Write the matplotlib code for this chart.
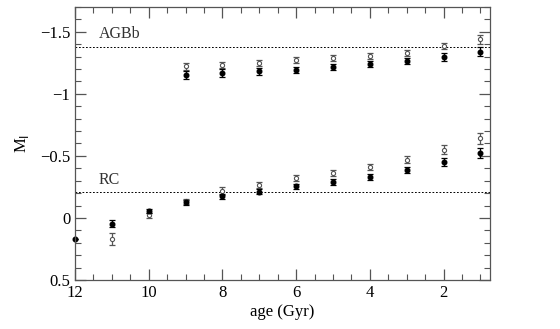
import matplotlib
matplotlib.use("Agg")
import matplotlib.pyplot as plt
from matplotlib.ticker import MultipleLocator

ages = [12, 11, 10, 9, 8, 7, 6, 5, 4, 3, 2, 1]
rc_filled = [0.17, 0.045, -0.054, -0.126, -0.174, -0.21, -0.257, -0.289, -0.332, -0.385, -0.45, -0.522]
rc_filled_err = [0.0, 0.03, 0.015, 0.02, 0.02, 0.02, 0.02, 0.025, 0.025, 0.025, 0.03, 0.04]
ages_open_rc = [11, 10, 9, 8, 7, 6, 5, 4, 3, 2, 1]
rc_open = [0.168, -0.02, -0.136, -0.217, -0.268, -0.32, -0.364, -0.41, -0.47, -0.55, -0.64]
rc_open_err = [0.05, 0.02, 0.02, 0.03, 0.025, 0.025, 0.025, 0.025, 0.03, 0.035, 0.045]

ages_agb = [9, 8, 7, 6, 5, 4, 3, 2, 1]
agb_filled = [-1.15, -1.166, -1.18, -1.19, -1.217, -1.238, -1.267, -1.297, -1.34]
agb_filled_err = [0.03, 0.03, 0.03, 0.025, 0.025, 0.025, 0.025, 0.03, 0.035]
agb_open = [-1.22, -1.235, -1.25, -1.27, -1.29, -1.305, -1.33, -1.385, -1.44]
agb_open_err = [0.025, 0.025, 0.025, 0.025, 0.025, 0.025, 0.025, 0.025, 0.035]

agbb_level = -1.375
rc_level = -0.205

plt.rcParams['font.family'] = ['Liberation Serif', 'DejaVu Serif']

fig = plt.figure(figsize=(5.6, 3.29), dpi=100)
ax = fig.add_axes([0.134, 0.149, 0.741, 0.830])

ax.axhline(agbb_level, color='black', lw=0.7, ls=(0, (1.8, 1.8)))
ax.axhline(rc_level, color='black', lw=0.7, ls=(0, (1.8, 1.8)))

ekw = dict(fmt='none', capsize=2.5, elinewidth=0.9, capthick=0.9)
ax.errorbar(ages_open_rc, rc_open, yerr=rc_open_err, ecolor='#555555', **ekw)
ax.errorbar(ages_agb, agb_open, yerr=agb_open_err, ecolor='#555555', **ekw)
ax.errorbar(ages, rc_filled, yerr=rc_filled_err, ecolor='black', **ekw)
ax.errorbar(ages_agb, agb_filled, yerr=agb_filled_err, ecolor='black', **ekw)

ax.plot(ages_open_rc, rc_open, 'o', ms=3.0, mfc='white', mec='#555555', mew=0.8, ls='none')
ax.plot(ages_agb, agb_open, 'o', ms=3.0, mfc='white', mec='#555555', mew=0.8, ls='none')
ax.plot(ages, rc_filled, 'o', ms=3.3, color='black', ls='none', clip_on=False)
ax.plot(ages_agb, agb_filled, 'o', ms=3.3, color='black', ls='none')

ax.set_xlim(12, 0.74)
ax.set_ylim(0.5, -1.7)

ax.xaxis.set_major_locator(MultipleLocator(2))
ax.xaxis.set_minor_locator(MultipleLocator(0.5))
ax.yaxis.set_major_locator(MultipleLocator(0.5))
ax.yaxis.set_minor_locator(MultipleLocator(0.1))
ax.set_xticks([12, 10, 8, 6, 4, 2])
ax.set_xticklabels(['12', '10', '8', '6', '4', '2'])
ax.set_yticks([0.5, 0, -0.5, -1, -1.5])
ax.set_yticklabels(['0.5', '0', '\u22120.5', '\u22121', '\u22121.5'])

ax.tick_params(which='both', direction='in', top=True, right=True, labelsize=12, color='#555555')
ax.tick_params(which='major', length=8, width=0.9)
ax.tick_params(which='minor', length=4, width=0.8)
for s in ax.spines.values():
    s.set_color('#555555')
    s.set_linewidth(0.9)

ax.text(11.35, agbb_level - 0.04, 'AGBb', fontsize=11.5, color='#333333', va='bottom', ha='left')
ax.text(11.35, rc_level - 0.04, 'RC', fontsize=11.5, color='#333333', va='bottom', ha='left')

ax.set_xlabel('age (Gyr)', fontsize=12, labelpad=2)
ax.set_ylabel('M$_\\mathrm{I}$', fontsize=12, labelpad=6)

fig.savefig('out.png', dpi=100)
